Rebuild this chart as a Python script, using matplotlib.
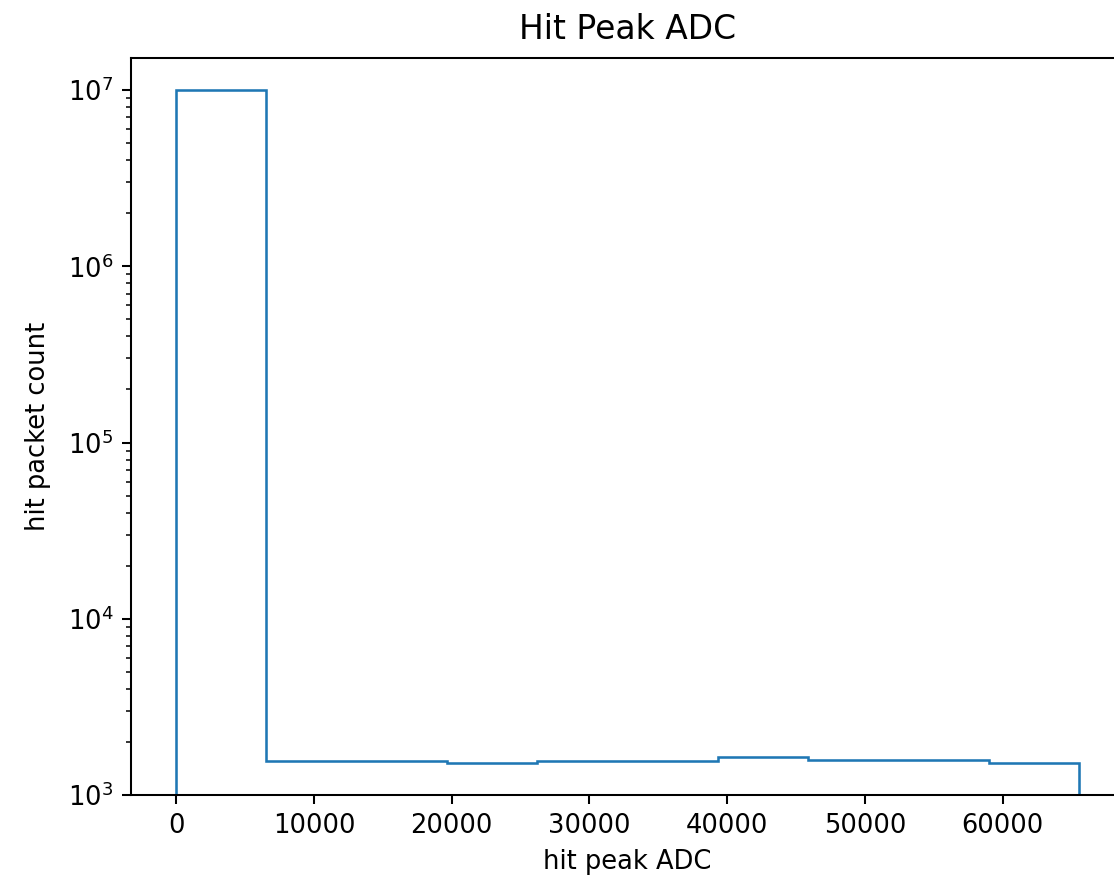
# Hit peak ADC histogram, log scale
import numpy as np
import matplotlib
matplotlib.use('Agg')
import matplotlib.pyplot as plt

# bin edges over the 16-bit ADC range, 10 bins
bin_edges = np.linspace(0, 65535, 11)
# counts per bin
counts = [1.0e7, 1565, 1565, 1525, 1565, 1565, 1650, 1580, 1580, 1525]

centers = (bin_edges[:-1] + bin_edges[1:]) / 2

fig = plt.figure(figsize=(1114 / 185, 884 / 185), dpi=185)
ax = fig.add_axes([0.1176, 0.1007, 0.8914, 0.8337])

ax.hist(centers, bins=bin_edges, weights=counts, histtype='step', log=True)
ax.set_ylim(1e3, 1.52e7)

ax.set_title('Hit Peak ADC', fontsize=12.8, pad=7.5)
ax.set_xlabel('hit peak ADC')
ax.set_ylabel('hit packet count', labelpad=6.5)

fig.savefig('out.png', dpi=185)
